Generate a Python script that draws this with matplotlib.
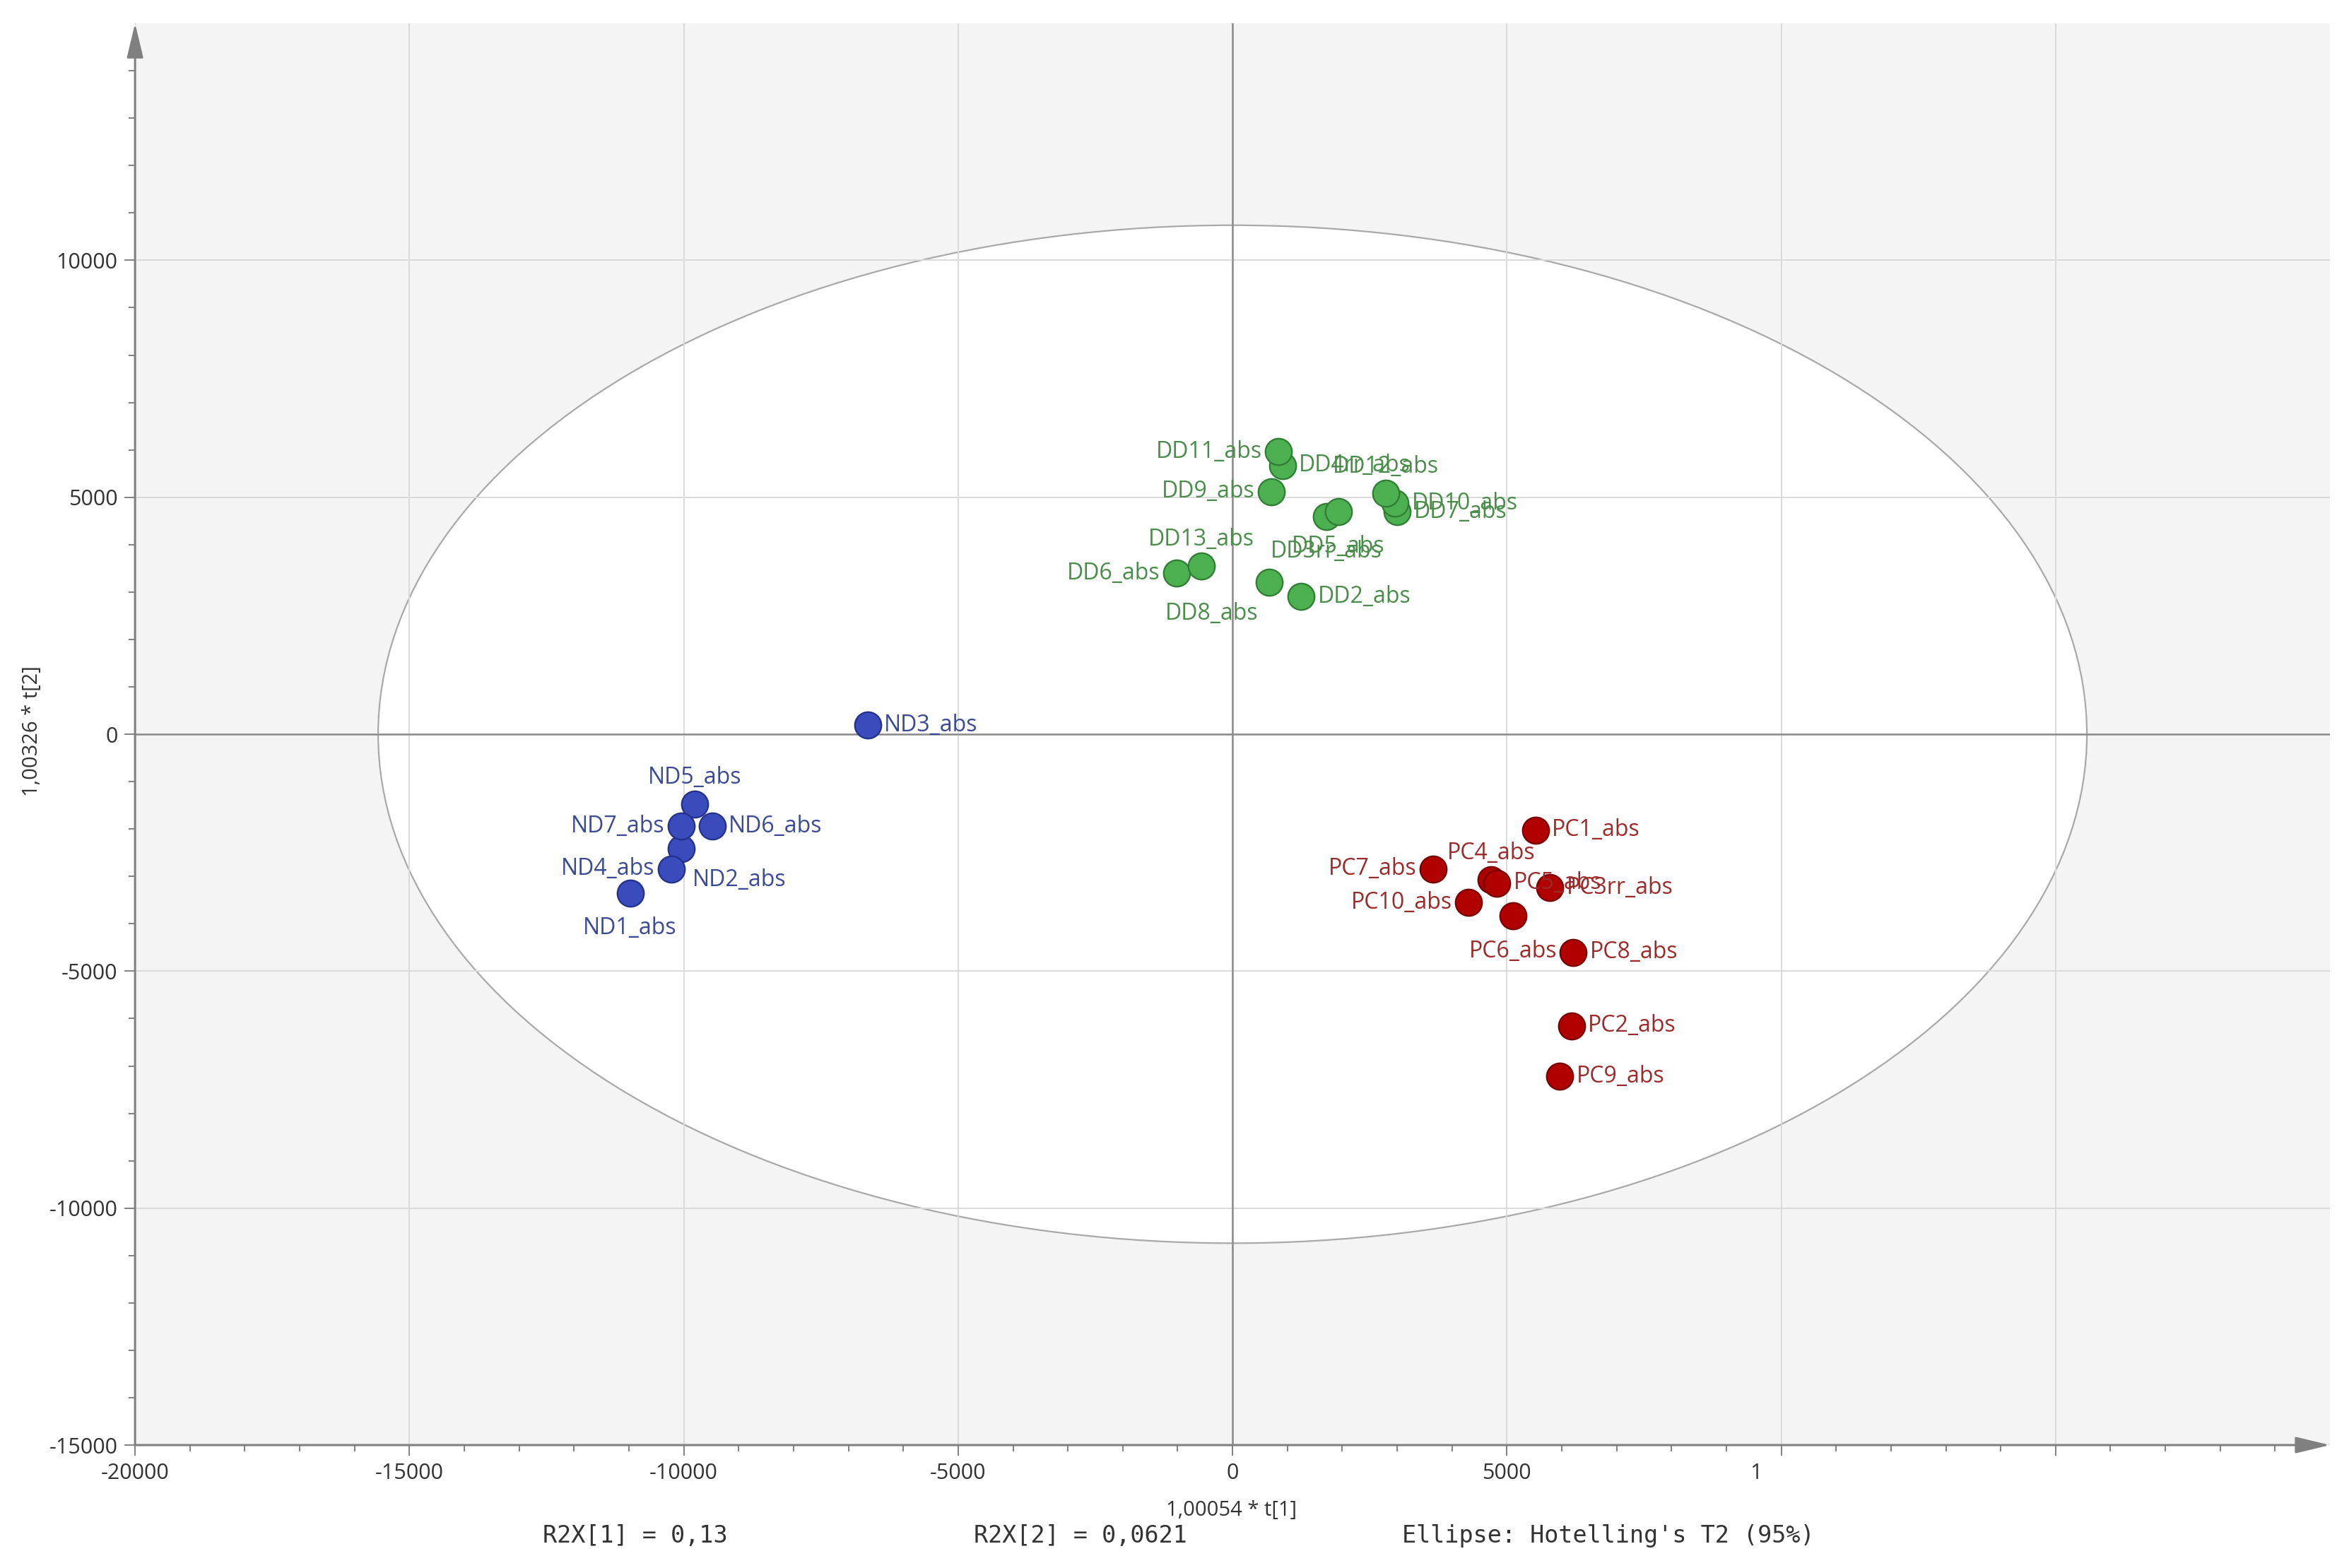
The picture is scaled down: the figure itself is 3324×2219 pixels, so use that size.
import numpy as np
import matplotlib
matplotlib.use('Agg')
import matplotlib.pyplot as plt
import matplotlib.transforms as mtransforms
from matplotlib.patches import Ellipse

plt.rcParams['font.family'] = ['Open Sans', 'DejaVu Sans']

# score values t[1], t[2]
nd_names = ['ND1_abs', 'ND2_abs', 'ND3_abs', 'ND4_abs', 'ND5_abs', 'ND6_abs', 'ND7_abs']
nd_t1 = [-10980, -10045, -6650, -10230, -9800, -9485, -10045]
nd_t2 = [-3350, -2420, 190, -2840, -1470, -1945, -1945]

dd_names = ['DD2_abs', 'DD3rr_abs', 'DD4rr_abs', 'DD5_abs', 'DD6_abs', 'DD7_abs',
            'DD8_abs', 'DD9_abs', 'DD10_abs', 'DD11_abs', 'DD12_abs', 'DD13_abs']
dd_t1 = [1250, 1710, 910, 1930, -1020, 3005, 665, 710, 2960, 840, 2790, -570]
dd_t2 = [2905, 4600, 5670, 4700, 3400, 4695, 3205, 5120, 4870, 5965, 5090, 3550]

pc_names = ['PC1_abs', 'PC2_abs', 'PC3rr_abs', 'PC4_abs', 'PC5_abs', 'PC6_abs',
            'PC7_abs', 'PC8_abs', 'PC9_abs', 'PC10_abs']
pc_t1 = [5520, 6175, 5785, 4710, 4820, 5115, 3655, 6210, 5965, 4305]
pc_t2 = [-2020, -6150, -3240, -3075, -3140, -3835, -2840, -4605, -7220, -3550]

# Hotelling's T2 (95%) ellipse half axes
t2_a = 15570
t2_b = 10740

xticks = [-20000, -15000, -10000, -5000, 0, 5000, 10000, 15000]
xticklabels = ['-20000', '-15000', '-10000', '-5000', '0', '5000', '', '']
yticks = [-15000, -10000, -5000, 0, 5000, 10000]
yticklabels = ['-15000', '-10000', '-5000', '0', '5000', '10000']

# where each label sits relative to its point
side = {
    'ND1_abs': 'b', 'ND2_abs': 'br', 'ND3_abs': 'r', 'ND4_abs': 'l', 'ND5_abs': 'a',
    'ND6_abs': 'r', 'ND7_abs': 'l',
    'DD2_abs': 'r', 'DD3rr_abs': 'b', 'DD4rr_abs': 'r', 'DD5_abs': 'b', 'DD6_abs': 'l',
    'DD7_abs': 'r', 'DD8_abs': 'bl', 'DD9_abs': 'l', 'DD10_abs': 'r', 'DD11_abs': 'l',
    'DD12_abs': 'a', 'DD13_abs': 'a',
    'PC1_abs': 'r', 'PC2_abs': 'r', 'PC3rr_abs': 'r', 'PC4_abs': 'a', 'PC5_abs': 'r',
    'PC6_abs': 'b', 'PC7_abs': 'l', 'PC8_abs': 'r', 'PC9_abs': 'r', 'PC10_abs': 'l',
}
offsets = {
    'r': ((17, 0), 'left'),
    'l': ((-17, 0), 'right'),
    'a': ((0, 27), 'center'),
    'b': ((0, -36), 'center'),
    'bl': ((-11, -32), 'right'),
    'br': ((11, -32), 'left'),
}

fig = plt.figure(figsize=(33.24, 22.19), dpi=100)
ax = fig.add_axes([0.0575, 0.0784, 0.9344, 0.9067])
ax.set_facecolor('#f4f4f4')
ax.set_xlim(-20000, 20000)
ax.set_ylim(-15000, 15000)

ax.add_patch(Ellipse((0, 0), 2 * t2_a, 2 * t2_b, facecolor='white',
                     edgecolor='#a9a9a9', lw=1.6, zorder=0.3))

ax.set_axisbelow(True)
ax.set_xticks(xticks)
ax.set_xticklabels(xticklabels)
ax.set_yticks(yticks)
ax.set_yticklabels(yticklabels)
ax.set_xticks(np.arange(-20000, 20000, 1000), minor=True)
ax.set_yticks(np.arange(-15000, 15000, 1000), minor=True)
ax.grid(True, which='major', color='#dadada', lw=1.4)
ax.axhline(0, color='#8a8a8a', lw=1.8, zorder=0.6)
ax.axvline(0, color='#8a8a8a', lw=1.8, zorder=0.6)

for s in ax.spines.values():
    s.set_visible(False)
ax.tick_params(which='major', length=10.8, width=1.4, color='#808080',
               labelsize=22, labelcolor='#333333', pad=7)
ax.tick_params(which='minor', length=6.5, width=1.4, color='#808080')

# axis lines with arrow heads
arrow = dict(arrowstyle='-|>,head_length=1.5,head_width=0.36', mutation_scale=20,
             color='#808080', lw=2.2, shrinkA=0, shrinkB=0)
ax.annotate('', xy=(1, 0), xytext=(0, 0), xycoords='axes fraction',
            arrowprops=arrow, annotation_clip=False, zorder=5)
ax.annotate('', xy=(0, 1), xytext=(0, 0), xycoords='axes fraction',
            arrowprops=arrow, annotation_clip=False, zorder=5)

# the cut-off "10000" label under the x axis
pad_pts = 10.8 + 7
trans, va, ha = ax.get_xaxis_text1_transform(pad_pts)
trans = trans + mtransforms.ScaledTranslation(-26 / 72, 0, fig.dpi_scale_trans)
ax.text(10000, 0, '1', transform=trans, va=va, ha=ha, fontsize=22, color='#333333')

groups = [
    (nd_names, nd_t1, nd_t2, '#3a4cbc', '#24318a', '#3b4a94'),
    (dd_names, dd_t1, dd_t2, '#4caf50', '#2e7d32', '#4a8c4a'),
    (pc_names, pc_t1, pc_t2, '#b00000', '#780000', '#9b2b2b'),
]
for names, xs, ys, face, edge, tcol in groups:
    ax.scatter(xs, ys, s=730, c=face, edgecolors=edge, linewidths=1.6, zorder=3)
    for n, x, y in zip(names, xs, ys):
        off, h = offsets[side[n]]
        ax.annotate(n, (x, y), xytext=off, textcoords='offset points',
                    ha=h, va='center', fontsize=23, color=tcol, zorder=4)

fig.text(46 / 3324, 1 - 1035 / 2219, '1,00326 * t[2]', rotation=90,
         ha='center', va='center', fontsize=21, color='#333333')
fig.text(1743 / 3324, 1 - 2137 / 2219, '1,00054 * t[1]',
         ha='center', va='center', fontsize=21, color='#333333')

mono = ['DejaVu Sans Mono']
fy = 1 - 2173 / 2219
fig.text(768 / 3324, fy, 'R2X[1] = 0,13', family=mono, fontsize=24,
         ha='left', va='center', color='#333333')
fig.text(1378 / 3324, fy, 'R2X[2] = 0,0621', family=mono, fontsize=24,
         ha='left', va='center', color='#333333')
fig.text(1984 / 3324, fy, "Ellipse: Hotelling's T2 (95%)", family=mono, fontsize=24,
         ha='left', va='center', color='#333333')

fig.savefig('out.png', dpi=100, facecolor='white')
